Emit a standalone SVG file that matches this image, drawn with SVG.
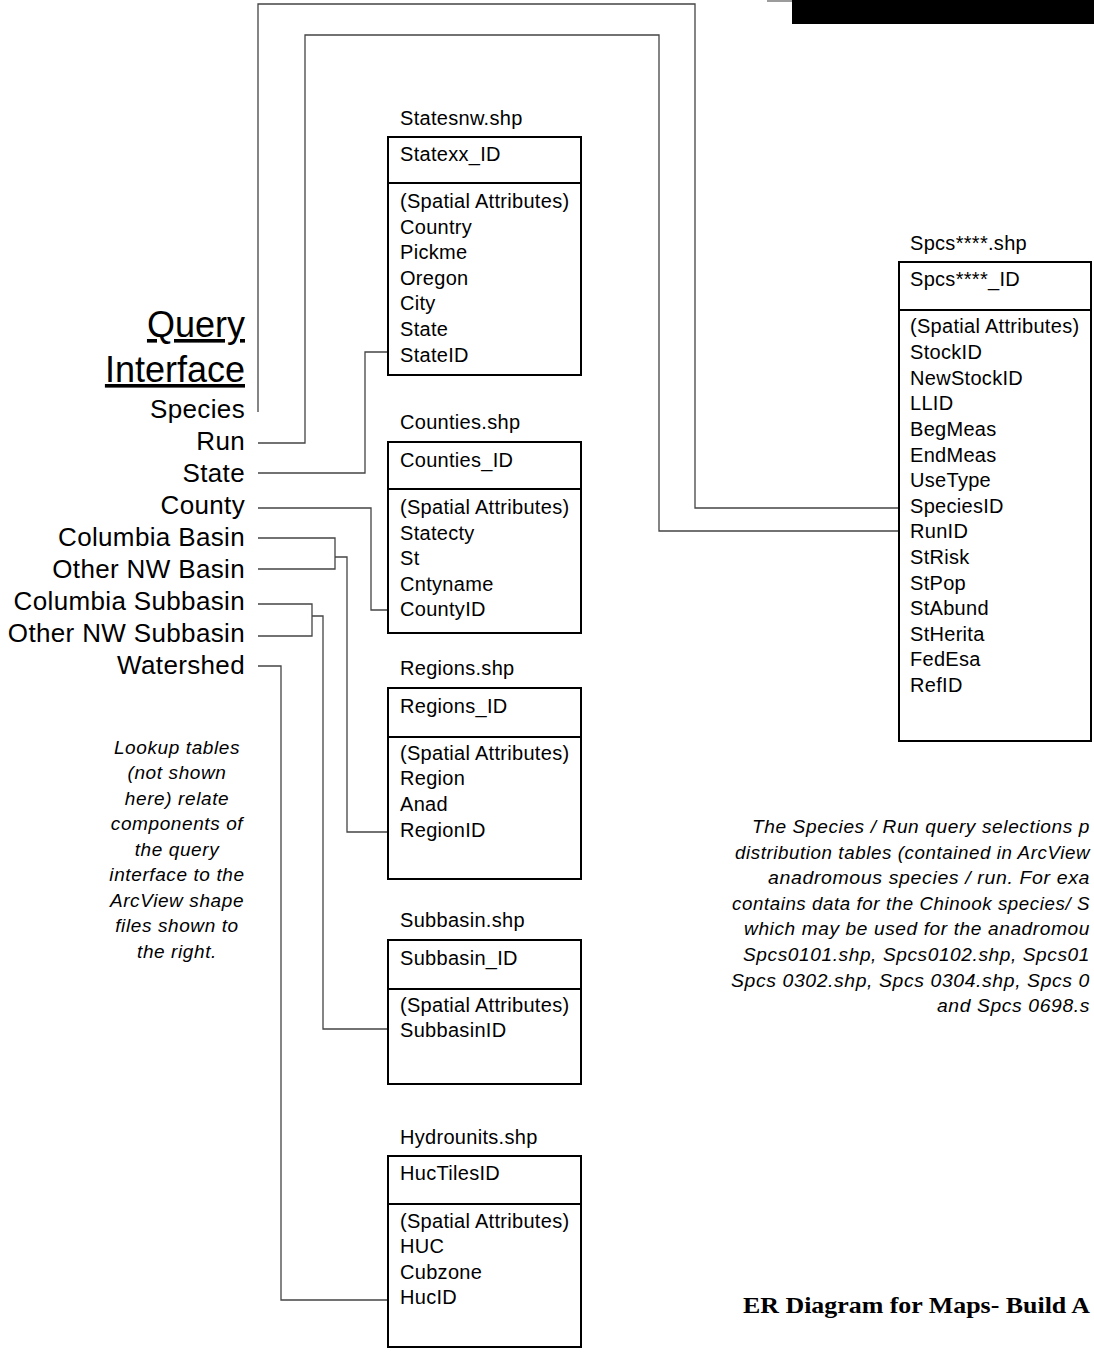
<svg xmlns="http://www.w3.org/2000/svg" width="1094" height="1352" viewBox="0 0 1094 1352">
<style>
.bg{fill:#fff}
.box{fill:#fff;stroke:#000;stroke-width:2}
.div{stroke:#000;stroke-width:2}
.t{font-family:"Liberation Sans",Arial,sans-serif;font-size:20px;letter-spacing:0.3px;fill:#000}
.q{font-family:"Liberation Sans",Arial,sans-serif;font-size:26px;letter-spacing:0.35px;fill:#000;text-anchor:end}
.qh{font-family:"Liberation Sans",Arial,sans-serif;font-size:36px;fill:#000;text-anchor:end;text-decoration:underline}
.it{font-family:"Liberation Sans",Arial,sans-serif;font-size:19px;font-style:italic;letter-spacing:0.6px;fill:#000}
.itc{text-anchor:middle}
.ttl{font-family:"Liberation Serif","Times New Roman",serif;font-size:24px;font-weight:bold;fill:#000}
.conn path{fill:none;stroke:#444;stroke-width:1.3}
</style>
<rect class="bg" x="0" y="0" width="1094" height="1352"/>
<g id="topbar">
<rect x="792" y="0" width="302" height="24" fill="#000"/>
<line x1="767" y1="1" x2="792" y2="1" stroke="#666" stroke-width="1.3"/>
</g>
<g class="conn" id="connectors">
<path d="M258,412 V4 H695 V508 H899"/>
<path d="M258,443 H305 V35 H659 V531 H899"/>
<path d="M258,473 H365 V352 H388"/>
<path d="M258,508 H371 V610 H388"/>
<path d="M258,538 H335 V569 H258 M335,557 H347 V832 H388"/>
<path d="M258,604 H312 V636 H258 M312,616 H323 V1029 H388"/>
<path d="M258,666 H281 V1300 H388"/>
</g>
<g id="query-interface">
<text class="qh" x="245" y="337">Query</text>
<text class="qh" x="245" y="382">Interface</text>
<text class="q" x="245" y="418">Species</text>
<text class="q" x="245" y="450">Run</text>
<text class="q" x="245" y="482">State</text>
<text class="q" x="245" y="514">County</text>
<text class="q" x="245" y="546">Columbia Basin</text>
<text class="q" x="245" y="578">Other NW Basin</text>
<text class="q" x="245" y="610">Columbia Subbasin</text>
<text class="q" x="245" y="642">Other NW Subbasin</text>
<text class="q" x="245" y="674">Watershed</text>
</g>
<g id="lookup-note">
<text class="it itc" x="177" y="754">Lookup tables</text>
<text class="it itc" x="177" y="779">(not shown</text>
<text class="it itc" x="177" y="805">here) relate</text>
<text class="it itc" x="177" y="830">components of</text>
<text class="it itc" x="177" y="856">the query</text>
<text class="it itc" x="177" y="881">interface to the</text>
<text class="it itc" x="177" y="907">ArcView shape</text>
<text class="it itc" x="177" y="932">files shown to</text>
<text class="it itc" x="177" y="958">the right.</text>
</g>
<g id="statesnw">
<text class="t" x="400" y="125">Statesnw.shp</text>
<rect class="box" x="388" y="137" width="193" height="238"/>
<line class="div" x1="388" y1="183" x2="581" y2="183"/>
<text class="t" x="400" y="161">Statexx_ID</text>
<text class="t" x="400" y="208">(Spatial Attributes)</text>
<text class="t" x="400" y="234">Country</text>
<text class="t" x="400" y="259">Pickme</text>
<text class="t" x="400" y="285">Oregon</text>
<text class="t" x="400" y="310">City</text>
<text class="t" x="400" y="336">State</text>
<text class="t" x="400" y="362">StateID</text>
</g>
<g id="counties">
<text class="t" x="400" y="429">Counties.shp</text>
<rect class="box" x="388" y="442" width="193" height="191"/>
<line class="div" x1="388" y1="489" x2="581" y2="489"/>
<text class="t" x="400" y="467">Counties_ID</text>
<text class="t" x="400" y="514">(Spatial Attributes)</text>
<text class="t" x="400" y="540">Statecty</text>
<text class="t" x="400" y="565">St</text>
<text class="t" x="400" y="591">Cntyname</text>
<text class="t" x="400" y="616">CountyID</text>
</g>
<g id="regions">
<text class="t" x="400" y="675">Regions.shp</text>
<rect class="box" x="388" y="688" width="193" height="191"/>
<line class="div" x1="388" y1="737" x2="581" y2="737"/>
<text class="t" x="400" y="713">Regions_ID</text>
<text class="t" x="400" y="760">(Spatial Attributes)</text>
<text class="t" x="400" y="785">Region</text>
<text class="t" x="400" y="811">Anad</text>
<text class="t" x="400" y="837">RegionID</text>
</g>
<g id="subbasin">
<text class="t" x="400" y="927">Subbasin.shp</text>
<rect class="box" x="388" y="940" width="193" height="144"/>
<line class="div" x1="388" y1="989" x2="581" y2="989"/>
<text class="t" x="400" y="965">Subbasin_ID</text>
<text class="t" x="400" y="1012">(Spatial Attributes)</text>
<text class="t" x="400" y="1037">SubbasinID</text>
</g>
<g id="hydrounits">
<text class="t" x="400" y="1144">Hydrounits.shp</text>
<rect class="box" x="388" y="1156" width="193" height="191"/>
<line class="div" x1="388" y1="1204" x2="581" y2="1204"/>
<text class="t" x="400" y="1180">HucTilesID</text>
<text class="t" x="400" y="1228">(Spatial Attributes)</text>
<text class="t" x="400" y="1253">HUC</text>
<text class="t" x="400" y="1279">Cubzone</text>
<text class="t" x="400" y="1304">HucID</text>
</g>
<g id="spcs">
<text class="t" x="910" y="250">Spcs****.shp</text>
<rect class="box" x="899" y="262" width="192" height="479"/>
<line class="div" x1="899" y1="310" x2="1091" y2="310"/>
<text class="t" x="910" y="286">Spcs****_ID</text>
<text class="t" x="910" y="333">(Spatial Attributes)</text>
<text class="t" x="910" y="359">StockID</text>
<text class="t" x="910" y="385">NewStockID</text>
<text class="t" x="910" y="410">LLID</text>
<text class="t" x="910" y="436">BegMeas</text>
<text class="t" x="910" y="462">EndMeas</text>
<text class="t" x="910" y="487">UseType</text>
<text class="t" x="910" y="513">SpeciesID</text>
<text class="t" x="910" y="538">RunID</text>
<text class="t" x="910" y="564">StRisk</text>
<text class="t" x="910" y="590">StPop</text>
<text class="t" x="910" y="615">StAbund</text>
<text class="t" x="910" y="641">StHerita</text>
<text class="t" x="910" y="666">FedEsa</text>
<text class="t" x="910" y="692">RefID</text>
</g>
<g id="species-note">
<text class="it" x="752" y="833" textLength="338" lengthAdjust="spacingAndGlyphs">The Species / Run query selections p</text>
<text class="it" x="735" y="859" textLength="355" lengthAdjust="spacingAndGlyphs">distribution tables (contained in ArcView</text>
<text class="it" x="768" y="884" textLength="322" lengthAdjust="spacingAndGlyphs">anadromous species / run.  For exa</text>
<text class="it" x="732" y="910" textLength="358" lengthAdjust="spacingAndGlyphs">contains data for the Chinook species/ S</text>
<text class="it" x="744" y="935" textLength="346" lengthAdjust="spacingAndGlyphs">which may be used for the anadromou</text>
<text class="it" x="743" y="961" textLength="347" lengthAdjust="spacingAndGlyphs">Spcs0101.shp, Spcs0102.shp, Spcs01</text>
<text class="it" x="731" y="987" textLength="359" lengthAdjust="spacingAndGlyphs">Spcs 0302.shp, Spcs 0304.shp, Spcs 0</text>
<text class="it" x="937" y="1012" textLength="153" lengthAdjust="spacingAndGlyphs">and Spcs 0698.s</text>
</g>
<g id="title">
<text class="ttl" x="743" y="1313" textLength="347" lengthAdjust="spacingAndGlyphs">ER Diagram for Maps- Build A</text>
</g>
</svg>
